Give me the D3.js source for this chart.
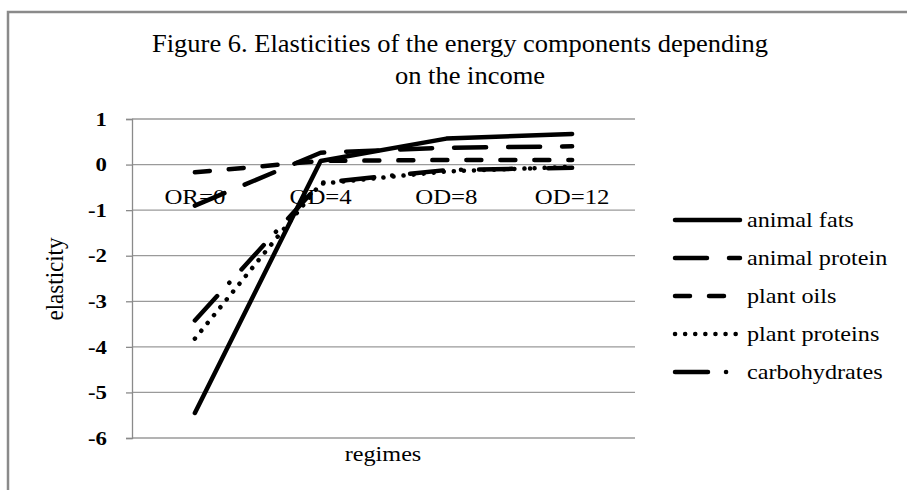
<!DOCTYPE html>
<html>
<head>
<meta charset="utf-8">
<script src="https://cdn.jsdelivr.net/npm/d3@7"></script>
<style>
  html, body { margin: 0; padding: 0; background: #fff; }
  svg { display: block; font-family: "Liberation Serif", "Times New Roman", serif; }
</style>
</head>
<body>
<svg id="chart" width="907" height="490"></svg>
<script>
// Regimes on the category axis
const categories = ["OR=0", "OD=4", "OD=8", "OD=12"];

// Income elasticities per energy component
const animalFats    = [-5.45, 0.08, 0.57, 0.67];
const animalProtein = [-0.90, 0.26, 0.37, 0.40];
const plantOils     = [-0.17, 0.08, 0.10, 0.10];
const plantProteins = [-3.82, -0.42, -0.15, -0.05];
const carbohydrates = [-3.42, -0.40, -0.12, -0.07];

const seriesNames = ["animal fats", "animal protein", "plant oils", "plant proteins", "carbohydrates"];
const yTicks = [1, 0, -1, -2, -3, -4, -5, -6];
const yTickLabels = ["1", "0", "-1", "-2", "-3", "-4", "-5", "-6"];

const series = [
  { name: seriesNames[0], values: animalFats,    dash: null },
  { name: seriesNames[1], values: animalProtein, dash: "32,22" },
  { name: seriesNames[2], values: plantOils,     dash: "15,19" },
  { name: seriesNames[3], values: plantProteins, dash: "0.1,10" },
  { name: seriesNames[4], values: carbohydrates, dash: "33,18,0.1,18" }
];

const svg = d3.select("#chart");

// place a text with a slight horizontal stretch around its anchor point
function label(parent, x, y, str, opts = {}) {
  const g = parent.append("g")
    .attr("transform", `translate(${x},${y}) scale(${opts.sx || 1.08},1)`);
  return g.append("text")
    .attr("text-anchor", opts.anchor || "middle")
    .attr("font-size", opts.size || 20)
    .attr("font-weight", opts.weight || "normal")
    .attr("dy", opts.dy || 0)
    .attr("fill", "#000")
    .text(str);
}

// outer frame
svg.append("rect")
  .attr("x", 8).attr("y", 12)
  .attr("width", 1000).attr("height", 1000)
  .attr("fill", "none").attr("stroke", "#8a8a8a").attr("stroke-width", 2.5);

// title
label(svg, 460, 52, "Figure 6. Elasticities of the energy components depending", { size: 25, sx: 1.06 });
label(svg, 470, 84, "on the income", { size: 25, sx: 1.06 });

const plot = { left: 132, right: 635, top: 119, bottom: 438 };

const x = d3.scalePoint()
  .domain(categories)
  .range([plot.left, plot.right])
  .padding(0.5);

const y = d3.scaleLinear()
  .domain([-6, 1])
  .range([plot.bottom, plot.top]);

// horizontal gridlines
svg.append("g")
  .selectAll("line")
  .data(yTicks)
  .join("line")
  .attr("x1", plot.left).attr("x2", plot.right)
  .attr("y1", d => y(d)).attr("y2", d => y(d))
  .attr("stroke", "#9a9a9a").attr("stroke-width", 1.3);

// value axis
const yAxis = d3.axisLeft(y).tickValues(yTicks).tickSize(6);
const yg = svg.append("g")
  .attr("transform", `translate(${plot.left},0)`)
  .call(yAxis);
yg.select(".domain").attr("stroke", "#8a8a8a").attr("stroke-width", 1.3);
yg.selectAll(".tick line").attr("stroke", "#8a8a8a").attr("stroke-width", 1.3);
yg.selectAll(".tick text").remove();

// tick labels of the value axis
yTicks.forEach((t, i) => {
  label(svg, 107, y(t), yTickLabels[i], { anchor: "end", size: 19, weight: "bold", dy: "0.35em", sx: 1.2 });
});

// category labels sit just below the zero line
const xAxis = d3.axisBottom(x).tickSize(0);
const xg = svg.append("g").attr("transform", `translate(0,${y(0)})`).call(xAxis);
xg.select(".domain").remove();
xg.selectAll(".tick text").remove();
categories.forEach(c => {
  label(svg, x(c), y(0) + 39, c, { size: 22, sx: 1.13 });
});

// axis titles
label(svg, 383, 461, "regimes", { size: 22, sx: 1.1 });
svg.append("g")
  .attr("transform", `translate(63,279) rotate(-90) scale(1,1.1)`)
  .append("text")
  .attr("text-anchor", "middle")
  .attr("font-size", 23)
  .attr("fill", "#000")
  .text("elasticity");

// series lines
const line = d3.line()
  .x((d, i) => x(categories[i]))
  .y(d => y(d));

svg.append("g")
  .selectAll("path")
  .data(series)
  .join("path")
  .attr("d", d => line(d.values))
  .attr("fill", "none")
  .attr("stroke", "#000")
  .attr("stroke-width", 4.5)
  .attr("stroke-linecap", "round")
  .attr("stroke-linejoin", "round")
  .attr("stroke-dasharray", d => d.dash);

// legend
const legend = svg.append("g");
const legY = d3.scaleLinear().domain([0, 4]).range([220, 372]);
series.forEach((s, i) => {
  const yy = legY(i);
  legend.append("line")
    .attr("x1", 675).attr("x2", 740)
    .attr("y1", yy).attr("y2", yy)
    .attr("stroke", "#000")
    .attr("stroke-width", 4.5)
    .attr("stroke-linecap", "round")
    .attr("stroke-dasharray", s.dash);
  label(legend, 747, yy + 7, s.name, { anchor: "start", size: 22, sx: 1.1 });
});
</script>
</body>
</html>
